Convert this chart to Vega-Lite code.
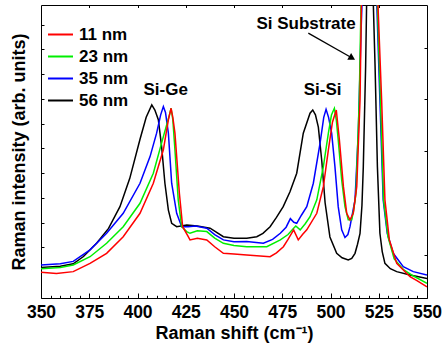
{
  "$schema": "https://vega.github.io/schema/vega-lite/v6.json",
  "width": 386,
  "height": 293,
  "autosize": {"type": "none"},
  "padding": {"left": 41, "top": 5, "right": 16, "bottom": 53},
  "config": {
    "view": {"stroke": "black", "strokeWidth": 1},
    "font": "Liberation Sans",
    "axis": {"domain": false, "grid": false}
  },
  "resolve": {"axis": {"x": "independent", "y": "independent"}},
  "layer": [
    {
      "encoding": {
        "x": {
          "field": "x", "type": "quantitative",
          "scale": {"domain": [350, 550], "nice": false, "zero": false},
          "axis": {
            "title": "Raman shift (cm⁻¹)",
            "titleFontSize": 18, "titleFontWeight": "bold", "titlePadding": 2,
            "values": [350,355,360,365,370,375,380,385,390,395,400,405,410,415,420,425,430,435,440,445,450,455,460,465,470,475,480,485,490,495,500,505,510,515,520,525,530,535,540,545,550],
            "labelExpr": "datum.value % 25 === 0 ? datum.label : ''",
            "labelFontSize": 17.5, "labelFontWeight": "bold", "labelColor": "black",
            "labelPadding": 10, "labelFlush": false, "labelOverlap": false,
            "tickColor": "black",
            "tickSize": {"condition": {"test": "datum.value % 25 === 0", "value": -5}, "value": -2.7}
          }
        },
        "y": {
          "field": "y", "type": "quantitative",
          "scale": {"domain": [0, 12], "nice": false, "zero": false},
          "axis": {
            "title": "Raman intensity (arb. units)",
            "titleFontSize": 18, "titleFontWeight": "bold", "titlePadding": 12,
            "labels": false,
            "values": [1.07,2.08,3.09,4.1,5.12,6.13,7.14,8.15,9.17,10.18,11.19],
            "tickColor": "black", "tickSize": -3
          }
        }
      },
      "layer": [
        {
          "data": {"values": [
            {"s":"56 nm","x":350,"y":1.25},{"s":"56 nm","x":360,"y":1.3},{"s":"56 nm","x":366.7,"y":1.4},{"s":"56 nm","x":372,"y":1.7},{"s":"56 nm","x":378.9,"y":2.25},{"s":"56 nm","x":385,"y":2.85},{"s":"56 nm","x":390.9,"y":3.74},{"s":"56 nm","x":396,"y":4.9},{"s":"56 nm","x":401.3,"y":6.5},{"s":"56 nm","x":404.5,"y":7.4},{"s":"56 nm","x":407.4,"y":7.91},{"s":"56 nm","x":409,"y":7.7},{"s":"56 nm","x":410.8,"y":7.3},{"s":"56 nm","x":412.5,"y":6.2},{"s":"56 nm","x":414.2,"y":4.7},{"s":"56 nm","x":416,"y":3.6},{"s":"56 nm","x":417.7,"y":3.06},{"s":"56 nm","x":420.3,"y":2.92},{"s":"56 nm","x":425.5,"y":2.99},{"s":"56 nm","x":431,"y":2.95},{"s":"56 nm","x":437.6,"y":2.86},{"s":"56 nm","x":444.5,"y":2.51},{"s":"56 nm","x":450,"y":2.45},{"s":"56 nm","x":456.6,"y":2.45},{"s":"56 nm","x":461.8,"y":2.51},{"s":"56 nm","x":465,"y":2.65},{"s":"56 nm","x":468.7,"y":2.92},{"s":"56 nm","x":472,"y":3.3},{"s":"56 nm","x":475.5,"y":3.74},{"s":"56 nm","x":479,"y":4.35},{"s":"56 nm","x":482.5,"y":5.11},{"s":"56 nm","x":485.9,"y":6.75},{"s":"56 nm","x":489.4,"y":7.57},{"s":"56 nm","x":490.8,"y":7.7},{"s":"56 nm","x":492.2,"y":7.5},{"s":"56 nm","x":493.7,"y":7.0},{"s":"56 nm","x":495.5,"y":5.6},{"s":"56 nm","x":497.2,"y":3.9},{"s":"56 nm","x":499.7,"y":2.5},{"s":"56 nm","x":503.2,"y":1.83},{"s":"56 nm","x":506,"y":1.65},{"s":"56 nm","x":509.2,"y":1.56},{"s":"56 nm","x":511,"y":1.62},{"s":"56 nm","x":512.7,"y":1.83},{"s":"56 nm","x":514,"y":2.2},{"s":"56 nm","x":515.3,"y":2.65},{"s":"56 nm","x":516.3,"y":3.8},{"s":"56 nm","x":517,"y":5.38},{"s":"56 nm","x":518.2,"y":9.48},{"s":"56 nm","x":518.7,"y":12},{"s":"56 nm","x":520.5,"y":35},{"s":"56 nm","x":522.2,"y":12},{"s":"56 nm","x":523.1,"y":9.48},{"s":"56 nm","x":524.3,"y":5.38},{"s":"56 nm","x":525.6,"y":2.65},{"s":"56 nm","x":526.8,"y":1.9},{"s":"56 nm","x":528.2,"y":1.42},{"s":"56 nm","x":531,"y":1.2},{"s":"56 nm","x":534.3,"y":1.08},{"s":"56 nm","x":541.2,"y":0.94},{"s":"56 nm","x":545,"y":0.88},{"s":"56 nm","x":550,"y":0.8},

            {"s":"35 nm","x":350,"y":1.35},{"s":"35 nm","x":360,"y":1.4},{"s":"35 nm","x":366.7,"y":1.5},{"s":"35 nm","x":375.4,"y":1.97},{"s":"35 nm","x":384,"y":2.65},{"s":"35 nm","x":392.6,"y":3.47},{"s":"35 nm","x":401.3,"y":4.7},{"s":"35 nm","x":406.5,"y":5.79},{"s":"35 nm","x":409.9,"y":6.75},{"s":"35 nm","x":412,"y":7.5},{"s":"35 nm","x":413.4,"y":7.84},{"s":"35 nm","x":414.5,"y":7.6},{"s":"35 nm","x":416,"y":6.75},{"s":"35 nm","x":417.7,"y":4.7},{"s":"35 nm","x":420.3,"y":3.47},{"s":"35 nm","x":422.9,"y":2.92},{"s":"35 nm","x":426.3,"y":2.92},{"s":"35 nm","x":430,"y":2.95},{"s":"35 nm","x":435.9,"y":2.86},{"s":"35 nm","x":440,"y":2.6},{"s":"35 nm","x":444.5,"y":2.38},{"s":"35 nm","x":450,"y":2.3},{"s":"35 nm","x":456.6,"y":2.31},{"s":"35 nm","x":465.2,"y":2.24},{"s":"35 nm","x":470,"y":2.4},{"s":"35 nm","x":474,"y":2.65},{"s":"35 nm","x":477,"y":2.9},{"s":"35 nm","x":479.2,"y":3.25},{"s":"35 nm","x":481,"y":3.1},{"s":"35 nm","x":482.5,"y":3.06},{"s":"35 nm","x":485,"y":3.4},{"s":"35 nm","x":487.7,"y":3.74},{"s":"35 nm","x":491.1,"y":4.7},{"s":"35 nm","x":494.6,"y":6.34},{"s":"35 nm","x":496.5,"y":7.4},{"s":"35 nm","x":497.7,"y":7.73},{"s":"35 nm","x":499,"y":7.4},{"s":"35 nm","x":500.6,"y":6.75},{"s":"35 nm","x":502.3,"y":5.38},{"s":"35 nm","x":504,"y":3.74},{"s":"35 nm","x":505.8,"y":2.79},{"s":"35 nm","x":507.5,"y":2.48},{"s":"35 nm","x":509,"y":2.6},{"s":"35 nm","x":510.1,"y":2.92},{"s":"35 nm","x":512.7,"y":4.02},{"s":"35 nm","x":514.4,"y":6.75},{"s":"35 nm","x":515.8,"y":10.85},{"s":"35 nm","x":516.3,"y":12},{"s":"35 nm","x":520.3,"y":40},{"s":"35 nm","x":524,"y":12},{"s":"35 nm","x":525.6,"y":8.1},{"s":"35 nm","x":527.3,"y":4.02},{"s":"35 nm","x":529.4,"y":2.65},{"s":"35 nm","x":532.5,"y":1.83},{"s":"35 nm","x":537.7,"y":1.28},{"s":"35 nm","x":542.9,"y":1.08},{"s":"35 nm","x":550,"y":0.94},

            {"s":"23 nm","x":350,"y":1.2},{"s":"23 nm","x":360,"y":1.25},{"s":"23 nm","x":366.7,"y":1.35},{"s":"23 nm","x":375.4,"y":1.69},{"s":"23 nm","x":384,"y":2.24},{"s":"23 nm","x":392.6,"y":2.92},{"s":"23 nm","x":401.3,"y":3.88},{"s":"23 nm","x":408.2,"y":5.11},{"s":"23 nm","x":413.4,"y":6.61},{"s":"23 nm","x":416.8,"y":7.57},{"s":"23 nm","x":417.4,"y":7.77},{"s":"23 nm","x":418.3,"y":7.3},{"s":"23 nm","x":419.4,"y":6.07},{"s":"23 nm","x":421.1,"y":4.02},{"s":"23 nm","x":422.9,"y":2.92},{"s":"23 nm","x":425.5,"y":2.72},{"s":"23 nm","x":427.2,"y":2.65},{"s":"23 nm","x":431,"y":2.75},{"s":"23 nm","x":435.9,"y":2.72},{"s":"23 nm","x":440,"y":2.45},{"s":"23 nm","x":444.5,"y":2.24},{"s":"23 nm","x":450,"y":2.15},{"s":"23 nm","x":456.6,"y":2.1},{"s":"23 nm","x":467,"y":2.1},{"s":"23 nm","x":474,"y":2.38},{"s":"23 nm","x":478,"y":2.6},{"s":"23 nm","x":480.9,"y":2.86},{"s":"23 nm","x":482,"y":2.95},{"s":"23 nm","x":484.3,"y":2.79},{"s":"23 nm","x":487,"y":3.05},{"s":"23 nm","x":489.4,"y":3.33},{"s":"23 nm","x":492.9,"y":4.02},{"s":"23 nm","x":496.3,"y":5.38},{"s":"23 nm","x":498.9,"y":6.75},{"s":"23 nm","x":500.5,"y":7.5},{"s":"23 nm","x":502,"y":7.77},{"s":"23 nm","x":503,"y":7.3},{"s":"23 nm","x":504,"y":6.48},{"s":"23 nm","x":505.8,"y":4.84},{"s":"23 nm","x":507.5,"y":3.74},{"s":"23 nm","x":509.2,"y":3.2},{"s":"23 nm","x":511,"y":3.2},{"s":"23 nm","x":512,"y":3.6},{"s":"23 nm","x":513.2,"y":4.29},{"s":"23 nm","x":514.9,"y":8.11},{"s":"23 nm","x":515.8,"y":12},{"s":"23 nm","x":520.3,"y":40},{"s":"23 nm","x":524.3,"y":12},{"s":"23 nm","x":525.9,"y":8.1},{"s":"23 nm","x":527.5,"y":4.02},{"s":"23 nm","x":529.8,"y":2.5},{"s":"23 nm","x":533,"y":1.6},{"s":"23 nm","x":538,"y":1.15},{"s":"23 nm","x":543,"y":0.9},{"s":"23 nm","x":550,"y":0.6},

            {"s":"11 nm","x":350,"y":1.05},{"s":"11 nm","x":358,"y":1.0},{"s":"11 nm","x":366.7,"y":1.08},{"s":"11 nm","x":375.4,"y":1.42},{"s":"11 nm","x":384,"y":1.83},{"s":"11 nm","x":392.6,"y":2.51},{"s":"11 nm","x":401.3,"y":3.47},{"s":"11 nm","x":408.2,"y":4.7},{"s":"11 nm","x":413.4,"y":6.07},{"s":"11 nm","x":416,"y":7.3},{"s":"11 nm","x":417.4,"y":7.77},{"s":"11 nm","x":418.3,"y":7.4},{"s":"11 nm","x":419.4,"y":6.75},{"s":"11 nm","x":421.7,"y":4.29},{"s":"11 nm","x":423.4,"y":2.92},{"s":"11 nm","x":426.3,"y":2.51},{"s":"11 nm","x":427.2,"y":2.38},{"s":"11 nm","x":431,"y":2.45},{"s":"11 nm","x":435.9,"y":2.38},{"s":"11 nm","x":440,"y":2.1},{"s":"11 nm","x":444.5,"y":1.83},{"s":"11 nm","x":450,"y":1.8},{"s":"11 nm","x":456.6,"y":1.76},{"s":"11 nm","x":468.7,"y":1.69},{"s":"11 nm","x":472,"y":1.85},{"s":"11 nm","x":475.6,"y":2.1},{"s":"11 nm","x":478,"y":2.4},{"s":"11 nm","x":480.9,"y":2.79},{"s":"11 nm","x":483.3,"y":2.38},{"s":"11 nm","x":485.5,"y":2.6},{"s":"11 nm","x":487.7,"y":2.79},{"s":"11 nm","x":492.9,"y":3.47},{"s":"11 nm","x":496.3,"y":4.56},{"s":"11 nm","x":498.9,"y":6.07},{"s":"11 nm","x":501,"y":7.2},{"s":"11 nm","x":503,"y":7.7},{"s":"11 nm","x":504.6,"y":6.48},{"s":"11 nm","x":506.7,"y":4.56},{"s":"11 nm","x":508.4,"y":3.47},{"s":"11 nm","x":510.1,"y":3.2},{"s":"11 nm","x":511.8,"y":3.47},{"s":"11 nm","x":513.6,"y":4.56},{"s":"11 nm","x":515.3,"y":8.11},{"s":"11 nm","x":516,"y":12},{"s":"11 nm","x":520.3,"y":40},{"s":"11 nm","x":524.6,"y":12},{"s":"11 nm","x":526.5,"y":8.1},{"s":"11 nm","x":528.2,"y":4.02},{"s":"11 nm","x":530.5,"y":2.38},{"s":"11 nm","x":534.3,"y":1.42},{"s":"11 nm","x":541.2,"y":0.87},{"s":"11 nm","x":545,"y":0.7},{"s":"11 nm","x":550,"y":0.46}
          ]},
          "mark": {"type": "line", "clip": true, "strokeWidth": 1.5},
          "encoding": {
            "color": {
              "field": "s", "type": "nominal",
              "scale": {"domain": ["11 nm", "23 nm", "35 nm", "56 nm"], "range": ["#ff0000", "#00ee00", "#0000ff", "#000000"]},
              "legend": {
                "title": null, "orient": "none", "legendX": 6, "legendY": 16,
                "symbolType": "stroke", "symbolSize": 625, "symbolStrokeWidth": 2,
                "labelFontSize": 17, "labelFontWeight": "bold", "labelColor": "black",
                "labelOffset": 5, "rowPadding": -1, "padding": 0
              }
            }
          }
        },
        {
          "data": {"values": [
            {"label": "Si-Ge", "x": 414.6, "y": 8.52},
            {"label": "Si-Si", "x": 495.9, "y": 8.52},
            {"label": "Si Substrate", "x": 487.3, "y": 11.23}
          ]},
          "mark": {"type": "text", "fontSize": 17, "fontWeight": "bold", "color": "black", "baseline": "middle", "align": "center"},
          "encoding": {
            "text": {"field": "label"}
          }
        },
        {
          "data": {"values": [{"x": 488.5, "y": 10.85, "x2": 511.2, "y2": 9.83}]},
          "mark": {"type": "rule", "color": "black", "strokeWidth": 1.3},
          "encoding": {
            "x2": {"field": "x2"},
            "y2": {"field": "y2"}
          }
        }
      ]
    },
    {
      "data": {"values": [{"x": 511.2, "y": 9.83}]},
      "mark": {"type": "point", "shape": "triangle-right", "filled": true, "color": "black", "opacity": 1, "size": 60, "angle": 29.7},
      "encoding": {
        "x": {
          "field": "x", "type": "quantitative",
          "scale": {"domain": [350, 550], "nice": false, "zero": false},
          "axis": {"orient": "top", "title": null, "labels": false, "values": [375, 400, 425, 450, 475, 500, 525], "tickColor": "black", "tickSize": -2.5}
        },
        "y": {
          "field": "y", "type": "quantitative",
          "scale": {"domain": [0, 12], "nice": false, "zero": false},
          "axis": {"orient": "right", "title": null, "labels": false, "values": [1.76, 3.89, 6.02, 8.15, 10.24], "tickColor": "black", "tickSize": -3}
        }
      }
    }
  ]
}
